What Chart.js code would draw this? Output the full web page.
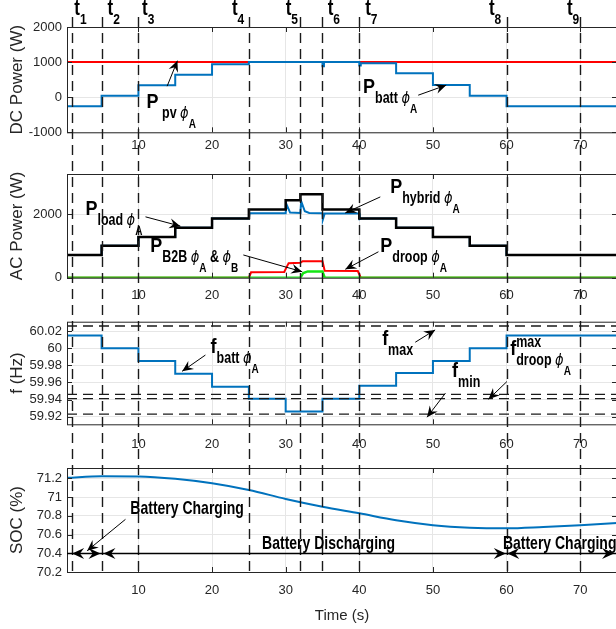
<!DOCTYPE html>
<html>
<head>
<meta charset="utf-8">
<title>Hybrid phase A power sharing</title>
<script src="https://cdn.jsdelivr.net/npm/chart.js@4.4.1/dist/chart.umd.min.js"></script>
<style>
  html, body { margin: 0; padding: 0; background: #fff; overflow: hidden; }
  #wrap { position: relative; width: 616px; height: 629px; overflow: hidden; }
  #wrap canvas { position: absolute; left: 0; }
</style>
</head>
<body>
<div id="wrap">
  <canvas id="dcChart" width="620" height="165" style="top:0px"></canvas>
  <canvas id="acChart" width="620" height="165" style="top:150px"></canvas>
  <canvas id="fChart" width="620" height="165" style="top:300px"></canvas>
  <canvas id="socChart" width="620" height="179" style="top:450px"></canvas>
  <canvas id="overlay" width="620" height="629" style="top:0px"></canvas>
</div>
<script>
// time axis
const xMin = 0.3, xMax = 75;
const xTicks = [10, 20, 30, 40, 50, 60, 70];
const eventTimes = [1, 5, 10, 25, 32, 35, 40, 60, 70];
const eventNames = ['1', '2', '3', '4', '5', '6', '7', '8', '9'];
const eventLabelAt = [1.3, 5.8, 10.5, 22.7, 30.0, 35.7, 40.8, 57.6, 68.2];

// DC power (W)
const dcTicks = [-1000, 0, 1000, 2000];
const pvTime = [0.3, 75];
const pPv = [1000, 1000];
const battTime = [0.3, 5, 10, 15, 20, 25, 35, 35.2, 40, 40.2, 45, 50, 55, 60, 75];
const pBatt = [-260, 40, 340, 640, 940, 1000, 880, 1000, 900, 970, 680, 350, 40, -260, -260];

// AC power (W)
const acTicks = [0, 2000];
const loadTime = [0.3, 5, 10, 15, 20, 25, 30, 32, 35, 40, 45, 50, 55, 60, 75];
const pLoad = [720, 1010, 1290, 1580, 1870, 2160, 2450, 2640, 2160, 1870, 1580, 1290, 1010, 720, 720];
const hybTime = [0.3, 5, 5, 10, 10, 15, 15, 20, 20, 25, 25.1, 30, 30.1, 30.6, 32, 32.1, 32.6, 33.2, 35, 35.05, 35.3, 40, 40.05, 40.3, 45, 45, 50, 50, 55, 55, 60, 60, 75];
const pHybrid = [720, 720, 1010, 1010, 1290, 1290, 1580, 1580, 1870, 1870, 2040, 2040, 2330, 2060, 2050, 2420, 2100, 2050, 2040, 1840, 2030, 2030, 1850, 1870, 1870, 1580, 1580, 1290, 1290, 1010, 1010, 720, 720];
const droopTime = [0.3, 25, 25.3, 29.8, 30.4, 32, 32.3, 35, 35.3, 39.8, 40.2, 75];
const pDroop = [0, 0, 170, 180, 460, 470, 520, 520, 220, 210, 0, 0];
const b2bTime = [0.3, 32, 32.4, 33, 35, 35.3, 75];
const pB2B = [0, 0, 150, 200, 200, 0, 0];

// frequency (Hz)
const fTicks = [59.92, 59.94, 59.96, 59.98, 60, 60.02];
const fTime = [0.3, 5, 10, 15, 20, 25, 30, 35, 40, 45, 50, 55, 60, 75];
const fBatt = [60.015, 60.0, 59.985, 59.97, 59.955, 59.941, 59.926, 59.941, 59.956, 59.971, 59.985, 60.0, 60.015, 60.015];
const fLimits = [60.026, 59.946, 59.941, 59.923];

// state of charge (%)
const socTicks = [70.2, 70.4, 70.6, 70.8, 71, 71.2];
const socTime = [0.3, 5, 10, 15, 20, 25, 30, 35, 40, 45, 50, 55, 60, 65, 70, 75];
const soc = [71.205, 71.222, 71.22, 71.195, 71.147, 71.075, 70.98, 70.897, 70.826, 70.752, 70.7, 70.673, 70.666, 70.68, 70.698, 70.723];
const socArrowLevel = 70.4;
const socArrowHeads = [[1, -1], [4.85, 1], [5.25, -1], [59.9, 1], [60.1, -1], [74.6, 1]];

const SANS = '"Liberation Sans", Arial, sans-serif';
const BLUE = '#0072bd', RED = '#ff0000', GREEN = '#14e614', INK = '#262626';

function pts(times, values) {
    return times.map((t, i) => ({ x: t, y: values[i] }));
}

function series(times, values, color, width, extra) {
    return Object.assign({ data: pts(times, values), borderColor: color, borderWidth: width, pointRadius: 0, fill: false }, extra || {});
}

// axes box with inward tick marks, MATLAB style
const boxPlugin = {
    id: 'box',
    afterDatasetsDraw(chart) {
        const { ctx, chartArea: a, scales } = chart;
        ctx.save();
        ctx.strokeStyle = INK;
        ctx.lineWidth = 1;
        ctx.strokeRect(a.left + 0.5, a.top + 0.5, a.right - a.left, a.bottom - a.top);
        ctx.beginPath();
        scales.x.ticks.forEach(tk => {
            const x = Math.round(scales.x.getPixelForValue(tk.value)) + 0.5;
            ctx.moveTo(x, a.top); ctx.lineTo(x, a.top + 5);
            ctx.moveTo(x, a.bottom); ctx.lineTo(x, a.bottom - 5);
        });
        scales.y.ticks.forEach(tk => {
            const y = Math.round(scales.y.getPixelForValue(tk.value)) + 0.5;
            ctx.moveTo(a.left, y); ctx.lineTo(a.left + 5, y);
            ctx.moveTo(a.right, y); ctx.lineTo(a.right - 5, y);
        });
        ctx.stroke();
        ctx.restore();
    }
};

function makeChart(id, cfg) {
    return new Chart(document.getElementById(id), {
        type: 'line',
        data: { datasets: cfg.datasets },
        options: {
            responsive: false,
            animation: false,
            devicePixelRatio: 1,
            layout: { padding: { top: cfg.padTop, right: 3, left: 0, bottom: 0 } },
            plugins: { legend: { display: false }, tooltip: { enabled: false } },
            elements: { point: { radius: 0 }, line: { tension: 0 } },
            scales: {
                x: {
                    type: 'linear', min: xMin, max: xMax,
                    grid: { color: '#e6e6e6', drawTicks: false },
                    border: { display: false },
                    ticks: { padding: cfg.xPad, color: INK, font: { family: SANS, size: 13 }, maxRotation: 0 },
                    afterBuildTicks: s => { s.ticks = xTicks.map(v => ({ value: v })); },
                    afterFit: s => { s.height = cfg.xHeight; },
                    title: cfg.xTitle
                        ? { display: true, text: cfg.xTitle, color: INK, font: { family: SANS, size: 15 }, padding: { top: 0, bottom: 4 } }
                        : { display: false }
                },
                y: {
                    type: 'linear', min: cfg.yMin, max: cfg.yMax,
                    grid: { color: '#e6e6e6', drawTicks: false },
                    border: { display: false },
                    ticks: { padding: 5, color: INK, font: { family: SANS, size: 13 }, callback: v => String(+v.toFixed(2)) },
                    afterBuildTicks: s => { s.ticks = cfg.yTicks.map(v => ({ value: v })); },
                    afterFit: s => { s.width = 67; },
                    title: { display: true, text: cfg.yTitle, color: INK, font: { family: SANS, size: 17 }, padding: { top: 7, bottom: 0 } }
                }
            }
        },
        plugins: [boxPlugin]
    });
}

const dcChart = makeChart('dcChart', {
    padTop: 27, xHeight: 32.7, xPad: 5, yMin: -1000, yMax: 2000, yTicks: dcTicks, yTitle: 'DC Power (W)',
    datasets: [
        series(battTime, pBatt, BLUE, 2, { stepped: 'before' }),
        series(pvTime, pPv, RED, 2)
    ]
});

const acChart = makeChart('acChart', {
    padTop: 24, xHeight: 37.3, xPad: 9.5, yMin: 0, yMax: 3280, yTicks: acTicks, yTitle: 'AC Power (W)',
    datasets: [
        series(b2bTime, pB2B, GREEN, 2.5),
        series(droopTime, pDroop, RED, 2),
        series(loadTime, pLoad, '#000000', 2.5, { stepped: 'before' }),
        series(hybTime, pHybrid, BLUE, 2)
    ]
});

const fChart = makeChart('fChart', {
    padTop: 21.7, xHeight: 40.7, xPad: 12, yMin: 59.911, yMax: 60.031, yTicks: fTicks, yTitle: 'f (Hz)',
    datasets: fLimits.map(v => series([xMin, xMax], [v, v], '#1a1a1a', 1.3, { borderDash: [10, 6] }))
        .concat([series(fTime, fBatt, BLUE, 2, { stepped: 'before' })])
});

const socChart = makeChart('socChart', {
    padTop: 18, xHeight: 57, xPad: 11, yMin: 70.2, yMax: 71.31, yTicks: socTicks, yTitle: 'SOC (%)', xTitle: 'Time (s)',
    datasets: [
        series(socTime, soc, BLUE, 2, { cubicInterpolationMode: 'monotone' })
    ]
});

// ---- overlay: event lines, labels and arrows ----
const BIG = { font: 'bold 18px ' + SANS, dy: 0, sy: 1.08 };
const SUB = { font: 'bold 12.5px ' + SANS, dy: 10, sy: 1.3 };
const SUP = { font: 'bold 12.5px ' + SANS, dy: -8, sy: 1.3 };
const PHI = { font: 'italic 13px "DejaVu Sans", sans-serif', dy: 10, sy: 1.2 };
const LOW = { font: 'bold 10px ' + SANS, dy: 20, sy: 1.3 };
const BAT = { font: 'bold 14px ' + SANS, dy: 0, sy: 1.3 };
const TT = { font: 'bold 17px ' + SANS, dy: 0, sy: 1.25 };
const TSUB = { font: 'bold 12px ' + SANS, dy: 9, sy: 1.2 };

const notes = [
    { chart: dcChart, at: [11.1, -314], parts: [[BIG, 'P'], [SUB, ' pv '], [PHI, 'ϕ'], [LOW, 'A']], arrow: [[13.9, 314], [15.3, 1040]] },
    { chart: dcChart, at: [40.5, 114], parts: [[BIG, 'P'], [SUB, 'batt '], [PHI, 'ϕ'], [LOW, 'A']], arrow: [[48.0, 57], [51.8, 343]] },
    { chart: acChart, at: [2.8, 1978], parts: [[BIG, 'P'], [SUB, 'load '], [PHI, 'ϕ'], [LOW, 'A']], arrow: [[10.96, 1925], [15.7, 1631]] },
    { chart: acChart, at: [44.2, 2682], parts: [[BIG, 'P'], [SUB, 'hybrid '], [PHI, 'ϕ'], [LOW, 'A']], arrow: [[42.85, 2555], [38.1, 2050]] },
    { chart: acChart, at: [11.6, 820], parts: [[BIG, 'P'], [SUB, 'B2B '], [PHI, 'ϕ'], [LOW, 'A'], [SUB, ' & '], [PHI, 'ϕ'], [LOW, 'B']], arrow: [[24.25, 719], [32.25, 189]] },
    { chart: acChart, at: [42.85, 820], parts: [[BIG, 'P'], [SUB, 'droop '], [PHI, 'ϕ'], [LOW, 'A']], arrow: [[42.6, 820], [38.1, 265]] },
    { chart: fChart, at: [19.8, 59.994], parts: [[BIG, 'f'], [SUB, 'batt '], [PHI, 'ϕ'], [LOW, 'A']], arrow: [[19.1, 59.992], [15.94, 59.973]] },
    { chart: fChart, at: [43.1, 60.0039], parts: [[BIG, 'f'], [SUB, 'max']], arrow: [[47.6, 60.007], [50.3, 60.0214]] },
    { chart: fChart, at: [52.6, 59.9668], parts: [[BIG, 'f'], [SUB, 'min']], arrow: [[51.7, 59.9474], [49.2, 59.9193]] },
    { chart: fChart, at: [60.5, 59.9922], parts: [[BIG, 'f'], [SUP, 'max', true], [SUB, 'droop '], [PHI, 'ϕ'], [LOW, 'A']], arrow: [[60.05, 59.961], [57.55, 59.9403]] },
    { chart: socChart, at: [8.9, 70.819], parts: [[BAT, 'Battery Charging']], arrow: [[8.24, 70.762], [3.04, 70.427]] },
    { chart: socChart, at: [26.8, 70.442], parts: [[BAT, 'Battery Discharging']] },
    { chart: socChart, at: [59.5, 70.442], parts: [[BAT, 'Battery Charging']] }
];

function px(chart, t) { return chart.scales.x.getPixelForValue(t); }
function py(chart, v) { return chart.scales.y.getPixelForValue(v) + chart.canvas.offsetTop; }

function drawRich(ctx, x, y, parts) {
    let cx = x;
    parts.forEach(([st, text, keep]) => {
        ctx.font = st.font;
        ctx.save();
        ctx.translate(cx, y + st.dy);
        ctx.scale(1, st.sy);
        ctx.fillText(text, 0, 0);
        ctx.restore();
        if (!keep) cx += ctx.measureText(text).width;
    });
}

function arrowHead(ctx, x1, y1, x2, y2, len, half) {
    const a = Math.atan2(y2 - y1, x2 - x1);
    ctx.save();
    ctx.translate(x2, y2);
    ctx.rotate(a);
    ctx.beginPath();
    ctx.moveTo(0, 0);
    ctx.lineTo(-len, -half);
    ctx.lineTo(-len * 0.65, 0);
    ctx.lineTo(-len, half);
    ctx.closePath();
    ctx.fill();
    ctx.restore();
}

function drawOverlay() {
    const ctx = document.getElementById('overlay').getContext('2d');
    ctx.fillStyle = '#000';
    ctx.strokeStyle = '#000';

    // event lines across all four panels
    const yEnd = socChart.chartArea.bottom + socChart.canvas.offsetTop;
    ctx.save();
    ctx.strokeStyle = '#1a1a1a';
    ctx.lineWidth = 1.4;
    ctx.setLineDash([10, 6]);
    eventTimes.forEach(t => {
        const x = Math.round(px(dcChart, t)) + 0.5;
        ctx.beginPath();
        ctx.moveTo(x, 17);
        ctx.lineTo(x, yEnd);
        ctx.stroke();
    });
    ctx.restore();

    eventNames.forEach((n, i) => {
        drawRich(ctx, px(dcChart, eventLabelAt[i]), 15, [[TT, 't'], [TSUB, n]]);
    });

    // labelled arrows
    notes.forEach(n => {
        drawRich(ctx, px(n.chart, n.at[0]), py(n.chart, n.at[1]), n.parts);
        if (n.arrow) {
            const [p0, p1] = n.arrow;
            const x1 = px(n.chart, p0[0]), y1 = py(n.chart, p0[1]);
            const x2 = px(n.chart, p1[0]), y2 = py(n.chart, p1[1]);
            ctx.lineWidth = 1;
            ctx.beginPath();
            ctx.moveTo(x1, y1);
            ctx.lineTo(x2, y2);
            ctx.stroke();
            arrowHead(ctx, x1, y1, x2, y2, 11, 5);
        }
    });

    // charging / discharging span arrows
    const ya = Math.round(py(socChart, socArrowLevel)) + 0.5;
    ctx.lineWidth = 1.3;
    ctx.beginPath();
    ctx.moveTo(px(socChart, xMin), ya);
    ctx.lineTo(px(socChart, xMax), ya);
    ctx.stroke();
    socArrowHeads.forEach(([t, dir]) => {
        const x = px(socChart, t);
        arrowHead(ctx, x - dir * 10, ya, x, ya, 12, 5.5);
    });
}

drawOverlay();
</script>
</body>
</html>
